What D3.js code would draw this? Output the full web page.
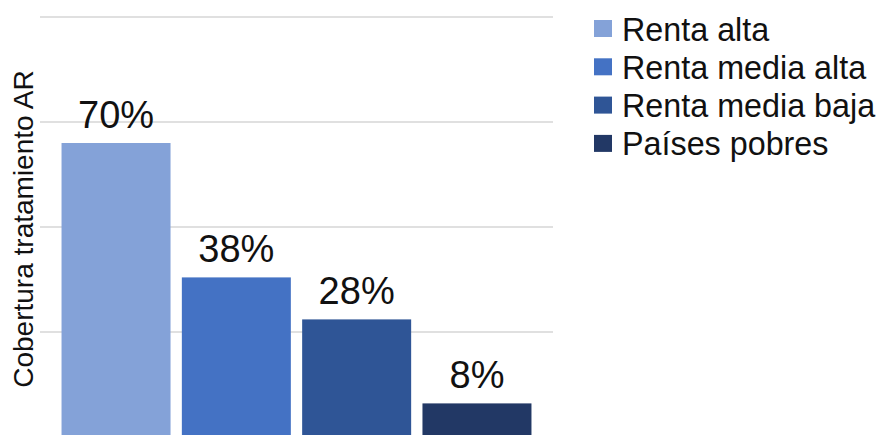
<!DOCTYPE html>
<html>
<head>
<meta charset="utf-8">
<script src="https://cdn.jsdelivr.net/npm/d3@7"></script>
<style>
  html, body { margin: 0; padding: 0; background: #fff; }
  svg { display: block; font-family: "Liberation Sans", Arial, Helvetica, sans-serif; }
</style>
</head>
<body>
<svg id="chart" width="884" height="435"></svg>
<script>
const series = ["Renta alta", "Renta media alta", "Renta media baja", "Países pobres"];
const values = [70, 38, 28, 8];
const colors = ["#84a2d8", "#4472c4", "#2f5596", "#223865"];
const yTicks = [0, 25, 50, 75, 100];
const yTitle = "Cobertura tratamiento AR";

const svg = d3.select("#chart");
const plot = { left: 40, right: 553, top: 17, bottom: 437 };

const y = d3.scaleLinear().domain([0, 100]).range([plot.bottom, plot.top]);
const x = d3.scaleBand().domain(series).range([plot.left, plot.right])
  .paddingInner(0.094).paddingOuter(0.179);

// gridlines
svg.append("g").selectAll("line").data(yTicks).join("line")
  .attr("x1", plot.left).attr("x2", plot.right)
  .attr("y1", d => y(d)).attr("y2", d => y(d))
  .attr("stroke", "#d6d6d6").attr("stroke-width", 1.5);

// bars
svg.append("g").selectAll("rect").data(series).join("rect")
  .attr("x", d => x(d))
  .attr("width", x.bandwidth())
  .attr("y", (d, i) => y(values[i]))
  .attr("height", (d, i) => y(0) - y(values[i]))
  .attr("fill", (d, i) => colors[i]);

// value labels
svg.append("g").selectAll("text").data(series).join("text")
  .attr("x", d => x(d) + x.bandwidth() / 2)
  .attr("y", (d, i) => y(values[i]) - 15.5)
  .attr("text-anchor", "middle")
  .attr("font-size", 38)
  .attr("fill", "#111")
  .text((d, i) => values[i] + "%");

// y-axis title
svg.append("text")
  .attr("transform", `translate(33,${(plot.top + plot.bottom) / 2 + 2}) rotate(-90)`)
  .attr("text-anchor", "middle")
  .attr("font-size", 28)
  .attr("fill", "#111")
  .text(yTitle);

// legend
const legend = svg.append("g").attr("transform", "translate(594,20)");
const rows = legend.selectAll("g").data(series).join("g")
  .attr("transform", (d, i) => `translate(0,${i * 38.3})`);
rows.append("rect").attr("width", 18).attr("height", 17)
  .attr("fill", (d, i) => colors[i]);
rows.append("text").attr("x", 28).attr("y", 20.5)
  .attr("font-size", 32.3).attr("fill", "#111")
  .text(d => d);
</script>
</body>
</html>
